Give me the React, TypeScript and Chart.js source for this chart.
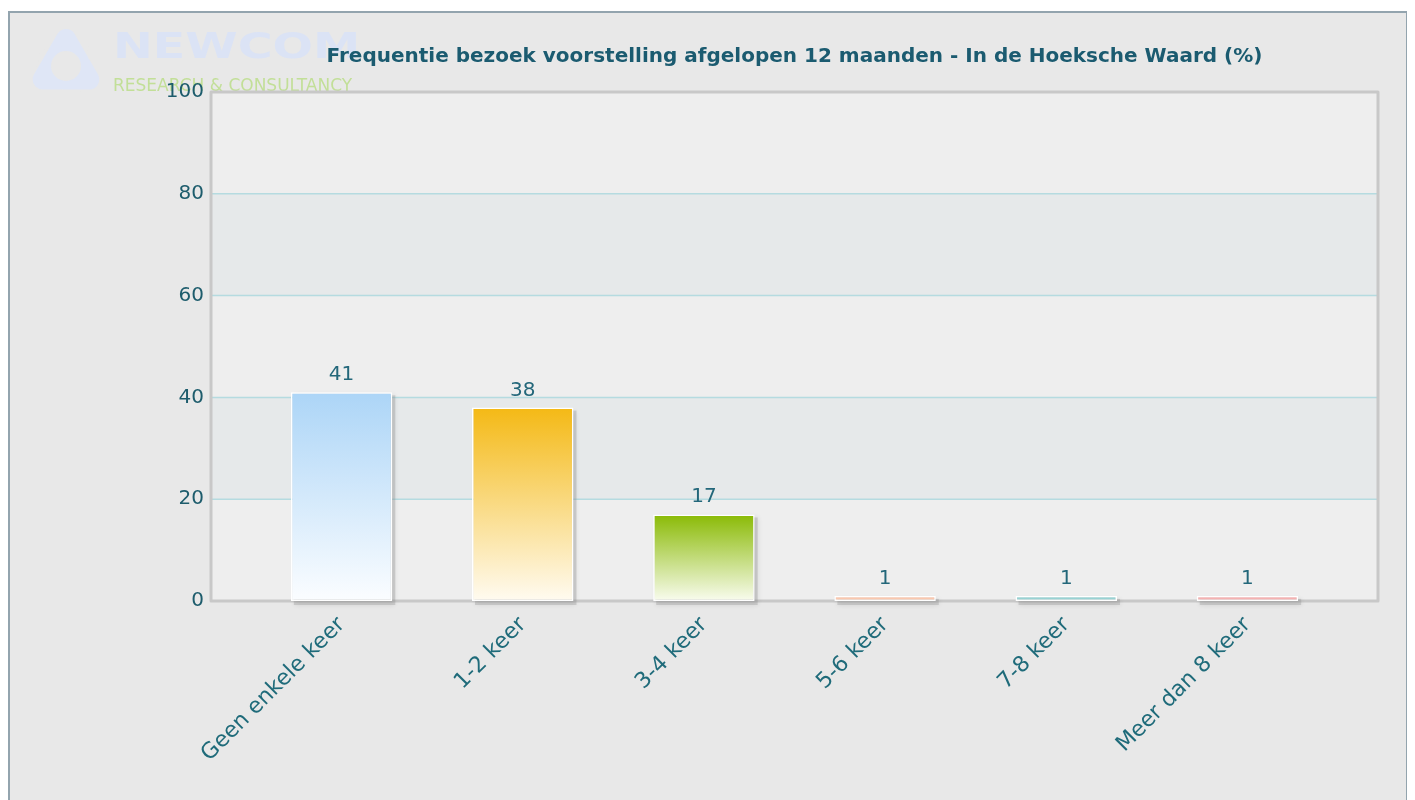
import React, { useEffect, useRef } from "react";
import { Chart, registerables } from "chart.js";

Chart.register(...registerables);

const categories = ["Geen enkele keer", "1-2 keer", "3-4 keer", "5-6 keer", "7-8 keer", "Meer dan 8 keer"];
const values = [41, 38, 17, 1, 1, 1];
const topColors = ["#acd5f7", "#f4b915", "#8aba05", "#f6a47c", "#55b3b5", "#ee7f7f"];
const bottomColors = ["#fbfdff", "#fffbf1", "#f9fcef", "#fde9de", "#d9f0f0", "#fbe1e1"];
const yTicks = [0, 20, 40, 60, 80, 100];
const titleText = "Frequentie bezoek voorstelling afgelopen 12 maanden - In de Hoeksche Waard (%)";
const logoName = "NEWCOM";
const logoSub = "RESEARCH & CONSULTANCY";

const CW = 1396;
const CH = 787;
const EXT = 40;

const bgPlugin = {
  id: "bgPlugin",
  beforeDraw(chart: any) {
    const { ctx, chartArea: a, scales } = chart;
    const y = scales.y;
    ctx.save();
    // logo watermark
    const cx = 56, cy = 53;
    ctx.fillStyle = "#dfe6f6";
    ctx.strokeStyle = "#dfe6f6";
    ctx.beginPath();
    for (let k = 0; k < 3; k++) {
      const ang = -Math.PI / 2 + k * (2 * Math.PI / 3);
      const px = cx + Math.cos(ang) * 27, py = cy + Math.sin(ang) * 27;
      if (k === 0) ctx.moveTo(px, py); else ctx.lineTo(px, py);
    }
    ctx.closePath();
    ctx.lineJoin = "round";
    ctx.lineWidth = 20;
    ctx.stroke();
    ctx.fill();
    ctx.fillStyle = "#e8e8e8";
    ctx.beginPath();
    ctx.arc(cx, cy, 15, 0, Math.PI * 2);
    ctx.fill();
    ctx.strokeStyle = "#e8e8e8";
    ctx.lineWidth = 3;
    for (let k = 0; k < 3; k++) {
      const ang = -Math.PI / 2 + k * (2 * Math.PI / 3);
      ctx.beginPath();
      ctx.arc(cx + Math.cos(ang) * 8, cy + Math.sin(ang) * 8, 24, ang + 0.6, ang + 1.6);
      ctx.stroke();
    }
    ctx.save();
    ctx.translate(103, 45);
    ctx.scale(1.32, 1);
    ctx.fillStyle = "#dbe3f5";
    ctx.font = "bold 36px 'DejaVu Sans'";
    ctx.textBaseline = "alphabetic";
    ctx.fillText(logoName, 0, 0);
    ctx.restore();
    ctx.fillStyle = "#c2df98";
    ctx.font = "17px 'DejaVu Sans'";
    ctx.fillText(logoSub, 103, 78);

    // plot bands
    const L = a.left - EXT, R = a.right + EXT;
    for (let i = 0; i < yTicks.length - 1; i++) {
      const y0 = y.getPixelForValue(yTicks[i]);
      const y1 = y.getPixelForValue(yTicks[i + 1]);
      ctx.fillStyle = i % 2 === 0 ? "#eeeeee" : "#e6e9ea";
      ctx.fillRect(L, y1, R - L, y0 - y1);
    }
    ctx.strokeStyle = "#b5dbe0";
    ctx.lineWidth = 1.5;
    for (let i = 1; i < yTicks.length - 1; i++) {
      const yy = y.getPixelForValue(yTicks[i]);
      ctx.beginPath();
      ctx.moveTo(L, yy);
      ctx.lineTo(R, yy);
      ctx.stroke();
    }
    ctx.strokeStyle = "#c8c8c8";
    ctx.lineWidth = 3;
    ctx.strokeRect(L, a.top, R - L, a.bottom - a.top);
    ctx.restore();
  },
  beforeDatasetsDraw(chart: any) {
    const { ctx } = chart;
    const meta = chart.getDatasetMeta(0);
    ctx.save();
    ctx.shadowColor = "rgba(0,0,0,0.28)";
    ctx.shadowBlur = 5;
    ctx.fillStyle = "rgba(150,150,150,0.35)";
    meta.data.forEach((bar: any) => {
      const w = bar.width;
      ctx.fillRect(bar.x - w / 2 + 3, bar.y + 3, w, bar.base - bar.y + 1);
    });
    ctx.restore();
  },
  afterDatasetsDraw(chart: any) {
    const { ctx } = chart;
    const meta = chart.getDatasetMeta(0);
    ctx.save();
    ctx.fillStyle = "#23677a";
    ctx.font = "20px 'DejaVu Sans'";
    ctx.textAlign = "center";
    ctx.textBaseline = "alphabetic";
    meta.data.forEach((bar: any, i: number) => {
      ctx.fillText(String(values[i]), bar.x, bar.y - 12);
    });
    ctx.restore();
  },
};

export default function App() {
  const ref = useRef<HTMLCanvasElement | null>(null);
  useEffect(() => {
    if (!ref.current) return;
    const chart = new Chart(ref.current, {
      type: "bar",
      data: {
        labels: categories,
        datasets: [
          {
            data: values,
            backgroundColor: (c: any) => {
              const ch = c.chart;
              const ys = ch.scales && ch.scales.y;
              const i = c.dataIndex;
              if (!ys || i === undefined || !ch.chartArea) return topColors[i ?? 0];
              const top = ys.getPixelForValue(values[i]);
              const bot = ys.getPixelForValue(0);
              const g = ch.ctx.createLinearGradient(0, top, 0, bot);
              g.addColorStop(0, topColors[i]);
              g.addColorStop(1, bottomColors[i]);
              return g;
            },
            borderColor: "#ffffff",
            borderWidth: 1.5,
            borderSkipped: false,
            categoryPercentage: 1,
            barPercentage: 0.56,
          },
        ],
      },
      options: {
        responsive: false,
        animation: false,
        layout: { padding: { left: 0, right: 68, top: 0, bottom: 0 } },
        plugins: {
          legend: { display: false },
          tooltip: { enabled: false },
          title: {
            display: true,
            text: titleText,
            fullSize: false,
            color: "#1b5b70",
            font: { family: "'DejaVu Sans'", size: 20, weight: "bold" },
            padding: { top: 32, bottom: 23 },
          },
        },
        scales: {
          x: {
            grid: { display: false },
            border: { display: false },
            ticks: {
              color: "#1f6b7a",
              font: { family: "'DejaVu Sans'", size: 22 },
              minRotation: 45,
              maxRotation: 45,
              autoSkip: false,
              padding: 3,
            },
            afterFit: (s: any) => {
              s.height = CH - 588;
            },
          },
          y: {
            min: 0,
            max: 100,
            grid: { display: false, drawTicks: false },
            border: { display: false },
            ticks: {
              stepSize: 20,
              color: "#1d5c6c",
              font: { family: "'DejaVu Sans'", size: 20 },
              padding: 47,
            },
            afterFit: (s: any) => {
              s.width = 241;
            },
          },
        },
      },
      plugins: [bgPlugin],
    } as any);
    return () => chart.destroy();
  }, []);
  return (
    <div
      style={{
        marginTop: 3,
        width: CW,
        height: CH,
        border: "2px solid #93a4ae",
        borderBottom: "none",
        background: "#e8e8e8",
      }}
    >
      <canvas ref={ref} width={CW} height={CH} style={{ display: "block" }} />
    </div>
  );
}
